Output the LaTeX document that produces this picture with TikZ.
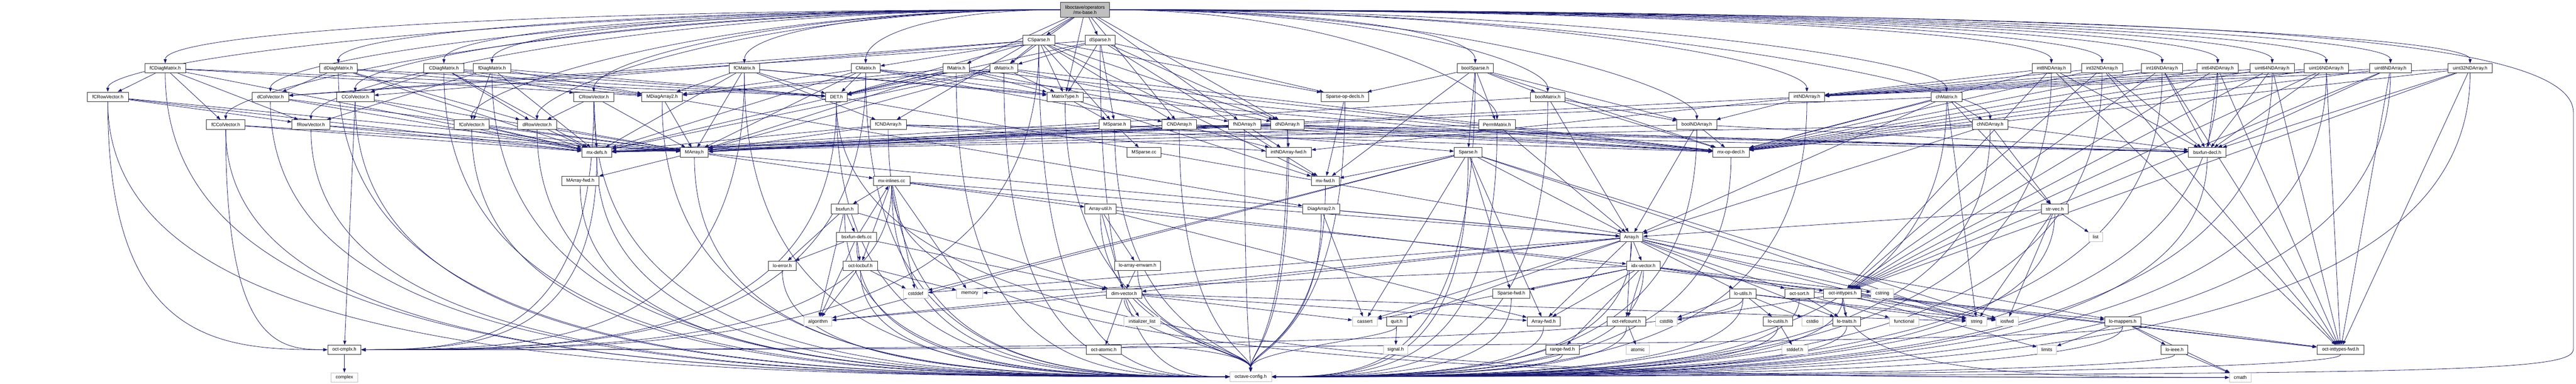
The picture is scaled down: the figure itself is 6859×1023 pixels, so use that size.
\documentclass[tikz,border=0pt]{standalone}
\usepackage{fontspec}
\setmainfont{Liberation Sans}
\usetikzlibrary{arrows.meta,calc}
\definecolor{lnk}{HTML}{191970}
\definecolor{gbd}{HTML}{BFBFBF}
\definecolor{bbd}{HTML}{303030}
\pgfdeclarelayer{bg}
\pgfsetlayers{bg,main}
\tikzset{
 box/.style={draw=bbd, line width=1.2pt, fill=white, minimum height=25pt, inner sep=0pt, font=\fontsize{12.5}{14}\selectfont, text=black},
 sysbox/.style={box, draw=gbd},
 dep/.style={draw=lnk, line width=1.1pt, -{Triangle[length=11pt,width=8pt]}},
}
\newcommand\xn[5]{\node[box,minimum width=#4pt] (#1) at (#2,#3) {#5};}
\newcommand\xg[5]{\node[sysbox,minimum width=#4pt] (#1) at (#2,#3) {#5};}
\newcommand\xes[2]{\foreach \tg in {#2}{\draw[dep] (#1) -- (\tg);}}
\newcommand\ebl[1]{\draw[dep] (base.west) .. controls ($(base.west)!0.6!(#1.north |- base.west)$) and ($(#1.north)+(0,-80)$) .. (#1.north);}
\newcommand\ebr[1]{\draw[dep] (base.east) .. controls ($(base.east)!0.6!(#1.north |- base.east)$) and ($(#1.north)+(0,-80)$) .. (#1.north);}
\newcommand\eol[1]{\draw[dep] (#1.south) .. controls (#1.south |- 0,985) and ($(oconf.west)!0.5!(#1.south |- oconf.west)$) .. (oconf.west);}
\newcommand\eor[1]{\draw[dep] (#1.south) .. controls (#1.south |- 0,985) and ($(oconf.east)!0.5!(#1.south |- oconf.east)$) .. (oconf.east);}
\newcommand\eot[1]{\draw[dep] (#1.south) .. controls (#1.south |- 0,900) and ($(oconf.north)+(0,-60)$) .. (oconf.north);}
\newcommand\ecr[1]{\draw[dep] (#1.south) .. controls (#1.south |- 0,910) and ($(ocmplx.east)!0.5!(#1.south |- ocmplx.east)$) .. (ocmplx.east);}
\newcommand\ecl[1]{\draw[dep] (#1.south) .. controls (#1.south |- 0,910) and ($(ocmplx.west)!0.5!(#1.south |- ocmplx.west)$) .. (ocmplx.west);}
\newcommand\ecm[1]{\draw[dep] (#1.south) .. controls (#1.south |- 0,995) and ($(cmath.west)!0.5!(#1.south |- cmath.west)$) .. (cmath.west);}
\begin{document}
\begin{tikzpicture}[x=1pt,y=-1pt]
\useasboundingbox (0,0) rectangle (6859,1023);
% top
\node[box,fill=gbd,minimum width=131pt,minimum height=39pt,align=center] (base) at (2889,26) {liboctave/operators\\/mx-base.h};
% row 1
\xn{CSp}{2766}{107}{84}{CSparse.h}
\xn{dSp}{2929}{107}{80}{dSparse.h}
% row 2
\xn{fCDM}{440}{182}{109}{fCDiagMatrix.h}
\xn{dDM}{901}{182}{101}{dDiagMatrix.h}
\xn{CDM}{1182}{182}{107}{CDiagMatrix.h}
\xn{fDM}{1310}{182}{99}{fDiagMatrix.h}
\xn{fCM}{1982}{182}{82}{fCMatrix.h}
\xn{CM}{2305}{182}{77}{CMatrix.h}
\xn{fM}{2546}{182}{71}{fMatrix.h}
\xn{dM}{2673}{182}{74}{dMatrix.h}
\xn{bSp}{3928}{182}{97}{boolSparse.h}
\xn{i8}{5462}{182}{103}{int8NDArray.h}
\xn{i32}{5597}{182}{110}{int32NDArray.h}
\xn{i16}{5757}{182}{110}{int16NDArray.h}
\xn{i64}{5905}{182}{110}{int64NDArray.h}
\xn{u64}{6050}{182}{117}{uint64NDArray.h}
\xn{u16}{6194}{182}{117}{uint16NDArray.h}
\xn{u8}{6365}{182}{110}{uint8NDArray.h}
\xn{u32}{6577}{182}{117}{uint32NDArray.h}
% row 3
\xn{fCRV}{287}{258}{110}{fCRowVector.h}
\xn{dCV}{720}{258}{97}{dColVector.h}
\xn{CCV}{946}{258}{100}{CColVector.h}
\xn{CRV}{1581}{258}{106}{CRowVector.h}
\xn{MDA2}{1763}{258}{108}{MDiagArray2.h}
\xn{DET}{2227}{258}{57}{DET.h}
\xn{MT}{2836}{258}{97}{MatrixType.h}
\xn{SOD}{3581}{258}{126}{Sparse-op-decls.h}
\xn{bM}{4121}{258}{92}{boolMatrix.h}
\xn{iND}{4811}{258}{95}{intNDArray.h}
\xn{chM}{5183}{258}{83}{chMatrix.h}
% row 4
\xn{fCCV}{601}{332}{103}{fCColVector.h}
\xn{fRV}{828}{332}{101}{fRowVector.h}
\xn{fCV}{1256}{332}{93}{fColVector.h}
\xn{dRV}{1430}{332}{103}{dRowVector.h}
\xn{fCND}{2365}{332}{96}{fCNDArray.h}
\xn{MSp}{2968}{332}{84}{MSparse.h}
\xn{CND}{3140}{332}{91}{CNDArray.h}
\xn{fND}{3314}{332}{86}{fNDArray.h}
\xn{dND}{3428}{332}{88}{dNDArray.h}
\xn{PM}{3986}{332}{98}{PermMatrix.h}
\xn{bND}{4518}{332}{106}{boolNDArray.h}
\xn{chND}{5299}{332}{95}{chNDArray.h}
% row 5
\xn{mxdefs}{1589}{406}{80}{mx-defs.h}
\xn{MA}{1849}{406}{74}{MArray.h}
\xn{MSpcc}{3046}{406}{91}{MSparse.cc}
\xn{iNDfwd}{3431}{406}{121}{intNDArray-fwd.h}
\xn{Sp}{3909}{406}{74}{Sparse.h}
\xn{mxop}{4609}{406}{97}{mx-op-decl.h}
\xn{bsxdecl}{5877}{406}{100}{bsxfun-decl.h}
% row 6
\xn{MAfwd}{1545}{482}{98}{MArray-fwd.h}
\xn{mxinl}{2374}{482}{97}{mx-inlines.cc}
\xn{mxfwd}{3529}{482}{75}{mx-fwd.h}
% row 7
\xn{bsx}{2249}{557}{71}{bsxfun.h}
\xn{Autil}{2930}{557}{83}{Array-util.h}
\xn{DA2}{3518}{557}{99}{DiagArray2.h}
\xn{strvec}{5471}{557}{71}{str-vec.h}
% row 8
\xn{bsxdefs}{2281}{632}{107}{bsxfun-defs.cc}
\xn{Arr}{4344}{632}{61}{Array.h}
\xg{list}{5580}{632}{37}{list}
% row 9
\xn{loerr}{2083}{708}{73}{lo-error.h}
\xn{locbuf}{2291}{708}{91}{oct-locbuf.h}
\xn{laerr}{3029}{708}{122}{lo-array-errwarn.h}
\xn{idx}{4376}{708}{90}{idx-vector.h}
% row 10
\xg{cstddef}{2438}{782}{65}{cstddef}
\xg{memory}{2582}{782}{70}{memory}
\xn{dimv}{2993}{782}{94}{dim-vector.h}
\xn{Spfwd}{4024}{782}{99}{Sparse-fwd.h}
\xn{loutils}{4641}{782}{70}{lo-utils.h}
\xn{osort}{4791}{782}{78}{oct-sort.h}
\xn{oint}{4906}{782}{100}{oct-inttypes.h}
\xg{cstring}{5012}{782}{60}{cstring}
% row 11
\xg{algorithm}{2178}{857}{74}{algorithm}
\xg{initl}{3041}{857}{97}{initializer\_list}
\xg{cassert}{3634}{857}{66}{cassert}
\xn{quit}{3719}{857}{55}{quit.h}
\xn{Afwd}{4110}{857}{88}{Array-fwd.h}
\xn{orc}{4331}{857}{103}{oct-refcount.h}
\xg{cstdlib}{4437}{857}{58}{cstdlib}
\xn{locutils}{4734}{857}{78}{lo-cutils.h}
\xg{cstdio}{4826}{857}{56}{cstdio}
\xn{lotraits}{4917}{857}{75}{lo-traits.h}
\xg{functional}{5070}{857}{78}{functional}
\xg{string}{5263}{857}{55}{string}
\xg{iosfwd}{5344}{857}{59}{iosfwd}
\xn{lomap}{5652}{857}{96}{lo-mappers.h}
% row 12
\xn{ocmplx}{917}{932}{89}{oct-cmplx.h}
\xn{oatomic}{2939}{932}{93}{oct-atomic.h}
\xg{signal}{3716}{932}{65}{signal.h}
\xn{rangefwd}{4160}{932}{89}{range-fwd.h}
\xg{atomic}{4361}{932}{61}{atomic}
\xg{stddefh}{4779}{932}{69}{stddef.h}
\xg{limits}{5450}{932}{52}{limits}
\xn{loieee}{5790}{932}{71}{lo-ieee.h}
\xn{ointfwd}{6232}{932}{126}{oct-inttypes-fwd.h}
% row 13
\xg{complex}{917}{1006}{71}{complex}
\xg{oconf}{3330}{1004}{111}{octave-config.h}
\xg{cmath}{5965}{1006}{58}{cmath}

\begin{pgfonlayer}{bg}
% from mx-base.h
\foreach \q in {fCDM,dDM,CDM,fDM,fCM,CM,fCRV,dCV,CCV,CRV,fCCV,fRV,fCV,dRV}{\ebl{\q}}
\foreach \q in {bSp,bM,PM,iND,chM,bND,chND,i8,i32,i16,i64,u64,u16,u8,u32}{\ebr{\q}}
\xes{base}{CSp,dSp,MT,dM,fM,fCND,CND,fND,dND}
\coordinate (rc1) at (6852,300);
\coordinate (rc2) at (6852,930);
\draw[dep] (base.east) .. controls (5500,40) and (6852,60) .. (rc1) -- (rc2) .. controls (6852,995) and (6500,997) .. (oconf.east);
% sparse
\xes{CSp}{CCV,CM,CND,DET,MSp,MT,SOD,dCV,dM,dND,mxfwd}
\xes{dSp}{DET,MSp,MT,SOD,dCV,dM,dND,mxfwd}
% diag matrices
\xes{fCDM}{DET,MDA2,fCCV,fCRV,fRV,mxdefs}
\xes{dDM}{DET,MDA2,dCV,dRV,mxdefs}
\xes{CDM}{CCV,CRV,DET,MDA2,dRV,mxdefs}
\xes{fDM}{DET,MDA2,fCV,fRV,mxdefs}
% matrices
\xes{fCM}{DET,MA,MDA2,MT,fCND,mxdefs,mxop}
\xes{CM}{DET,MA,MDA2,MT,CND,mxdefs,mxop}
\xes{fM}{DET,MA,MDA2,MT,fND,mxdefs,mxop}
\xes{dM}{DET,MA,MDA2,MT,dND,mxdefs,mxop}
\xes{bSp}{PM,Sp,SOD,bM,bND,mxfwd,mxop}
\foreach \q in {i8,i32,i16,i64,u64,u16,u8,u32}{\xes{\q}{iND,mxop,bsxdecl,oint,ointfwd}}
% vectors
\xes{fCRV}{MA,fRV,mxdefs}
\xes{dCV}{MA,mxdefs}
\xes{CCV}{MA,mxdefs}
\xes{CRV}{MA,dRV,mxdefs}
\xes{fCCV}{MA,mxdefs}
\xes{fRV}{MA,mxdefs}
\xes{fCV}{MA,mxdefs}
\xes{dRV}{MA,mxdefs}
\xes{MDA2}{DA2,MA}
\xes{DET}{lomap}
\xes{MT}{MSp,mxfwd}
\xes{SOD}{mxfwd}
\xes{bM}{Arr,bND,mxdefs,mxop}
\xes{iND}{MA,bND,iNDfwd}
\xes{chM}{Arr,chND,mxdefs,mxop,strvec,string}
\foreach \q in {fCND,CND,fND,dND}{\xes{\q}{MA,bsxdecl,iNDfwd,mxdefs,mxop}}
\xes{MSp}{MA,Sp,MSpcc}
\xes{PM}{Arr,mxdefs}
\xes{bND}{Arr,bsxdecl,mxdefs,mxop}
\xes{chND}{Arr,bsxdecl,mxdefs,mxop,strvec}
\xes{MA}{Arr,MAfwd,mxinl}
\xes{Sp}{cassert,cstddef,algorithm,iosfwd,string,Arr,Spfwd,mxfwd,Afwd}
\xes{mxinl}{cstddef,memory,Autil,Arr,bsx,ointfwd,locbuf}
\xes{bsx}{algorithm,dimv,loerr,bsxdefs}
\xes{Autil}{Afwd,dimv,idx,laerr}
\xes{DA2}{cassert,Arr}
\xes{strvec}{iosfwd,list,string,Arr}
\xes{bsxdefs}{algorithm,dimv,loerr,locbuf,mxinl}
\xes{Arr}{cassert,cstddef,algorithm,iosfwd,string,Afwd,dimv,idx,lotraits,loutils,orc,osort,quit}
\xes{locbuf}{cstddef,algorithm,memory}
\xes{laerr}{dimv}
\xes{idx}{cassert,cstring,iosfwd,memory,Afwd,Spfwd,orc,rangefwd,oint}
\xes{dimv}{cassert,algorithm,initl,string,oatomic,Afwd}
\xes{loutils}{cstdlib,cstdio,iosfwd,string,locutils}
\xes{osort}{functional,lotraits}
\xes{oint}{cstdlib,iosfwd,limits,lomap,lotraits,ointfwd}
\xes{quit}{signal}
\xes{orc}{atomic}
\xes{locutils}{stddefh}
\xes{lomap}{limits,loieee,ointfwd}
\xes{ocmplx}{complex}
% to octave-config.h
\foreach \q in {CSp,dSp,fCDM,dDM,CDM,fDM,fCM,CM,fM,dM,fCRV,dCV,CCV,CRV,MDA2,DET,fCCV,fRV,fCV,dRV,fCND,mxdefs,MA,MAfwd,mxinl,bsx,bsxdefs,loerr,locbuf}{\eol{\q}}
\foreach \q in {MT,MSp,CND,Autil,laerr,dimv,oatomic,fND,dND,iNDfwd,mxfwd,DA2,SOD,quit}{\eot{\q}}
\foreach \q in {bSp,i8,i32,i16,i64,u64,u16,u8,u32,bM,iND,chM,PM,bND,chND,Sp,mxop,bsxdecl,strvec,Arr,idx,Spfwd,loutils,osort,oint,Afwd,orc,locutils,lotraits,lomap,rangefwd,loieee,ointfwd}{\eor{\q}}
% to oct-cmplx.h
\foreach \q in {CSp,fCM,CM,CRV,DET,mxdefs,mxinl,loutils,lomap}{\ecr{\q}}
\foreach \q in {fCRV,fCCV}{\ecl{\q}}
\xes{CCV}{ocmplx}
% to cmath
\foreach \q in {DET,mxinl,oint}{\ecm{\q}}
\xes{lomap}{cmath}
\xes{loieee}{cmath}
\end{pgfonlayer}
\end{tikzpicture}
\end{document}
